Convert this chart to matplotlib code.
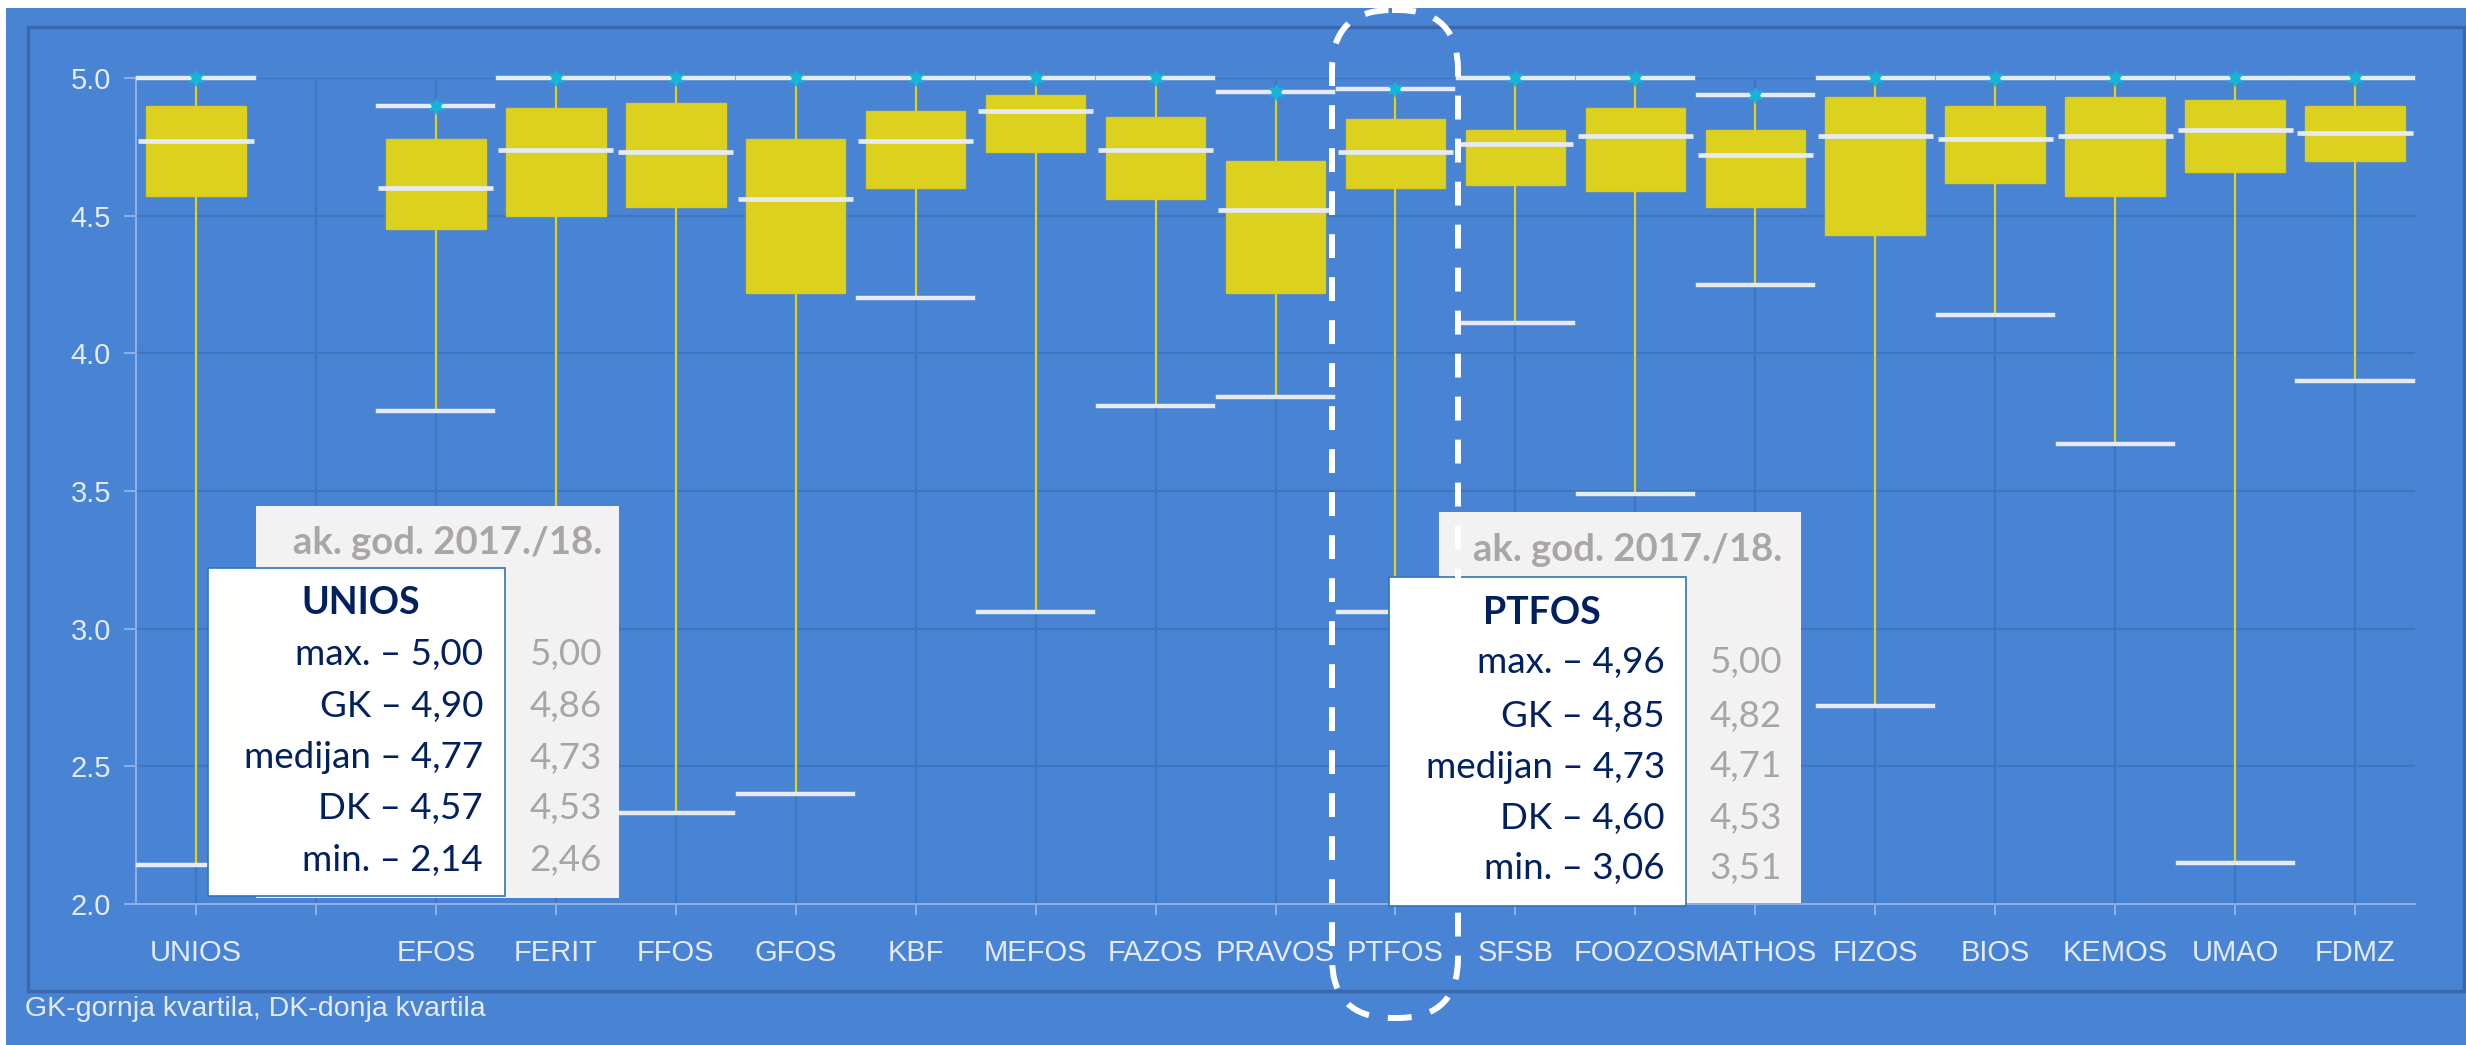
import numpy as np
import matplotlib
matplotlib.use("Agg")
import matplotlib.pyplot as plt
from matplotlib.patches import Rectangle, FancyBboxPatch

# --- data (ocjene po sastavnicama) ---
labels = ["UNIOS", "", "EFOS", "FERIT", "FFOS", "GFOS", "KBF", "MEFOS", "FAZOS", "PRAVOS",
          "PTFOS", "SFSB", "FOOZOS", "MATHOS", "FIZOS", "BIOS", "KEMOS", "UMAO", "FDMZ"]
names = [l for l in labels if l]
maxs    = [5.00, 4.90, 5.00, 5.00, 5.00, 5.00, 5.00, 5.00, 4.95, 4.96, 5.00, 5.00, 4.94, 5.00, 5.00, 5.00, 5.00, 5.00]
q3s     = [4.90, 4.78, 4.89, 4.91, 4.78, 4.88, 4.94, 4.86, 4.70, 4.85, 4.81, 4.89, 4.81, 4.93, 4.90, 4.93, 4.92, 4.90]
medians = [4.77, 4.60, 4.74, 4.73, 4.56, 4.77, 4.88, 4.74, 4.52, 4.73, 4.76, 4.79, 4.72, 4.79, 4.78, 4.79, 4.81, 4.80]
q1s     = [4.57, 4.45, 4.50, 4.53, 4.22, 4.60, 4.73, 4.56, 4.22, 4.60, 4.61, 4.59, 4.53, 4.43, 4.62, 4.57, 4.66, 4.70]
mins    = [2.14, 3.79, 2.70, 2.33, 2.40, 4.20, 3.06, 3.81, 3.84, 3.06, 4.11, 3.49, 4.25, 2.72, 4.14, 3.67, 2.15, 3.90]

prev_unios = [5.00, 4.86, 4.73, 4.53, 2.46]   # ak. god. 2017./18.
prev_ptfos = [5.00, 4.82, 4.71, 4.53, 3.51]
stat_names = ["max.", "GK", "medijan", "DK", "min."]
yticks = [2.0, 2.5, 3.0, 3.5, 4.0, 4.5, 5.0]

BG = "#4983D3"
GRID = "#3F74C0"
LIGHT = "#E4EBF7"
YELLOW = "#DCD11E"
NAVY = "#002060"
GRAY_TXT = "#AAA6A6"

W, H = 2466, 1045
fig = plt.figure(figsize=(W / 100, H / 100), dpi=100, facecolor="white")

# background / frame in pixel coordinates
bg = fig.add_axes([0, 0, 1, 1], zorder=0)
bg.set_xlim(0, W)
bg.set_ylim(H, 0)
bg.axis("off")
bg.add_patch(Rectangle((6, 8), W, H, facecolor=BG, edgecolor="none"))
bg.add_patch(Rectangle((28, 27), 2436, 964, facecolor="none", edgecolor="#3B68AC", lw=2.5))

# main chart
ax = fig.add_axes([136 / W, (H - 904) / H, (2415 - 136) / W, (904 - 78) / H], zorder=1)
ax.set_facecolor("none")
pos = [i for i, l in enumerate(labels) if l]
stats = [dict(label=n, whislo=lo, q1=a, med=m, q3=b, whishi=hi)
         for n, lo, a, m, b, hi in zip(names, mins, q1s, medians, q3s, maxs)]
art = ax.bxp(stats, positions=pos, widths=0.83, capwidths=0.96, patch_artist=True,
             showfliers=False,
             boxprops=dict(facecolor=YELLOW, edgecolor="#D8CC20", lw=1),
             whiskerprops=dict(color="#E2D31A", lw=1.6),
             capprops=dict(color="#E6EAF2", lw=3.2),
             medianprops=dict(lw=0))
for group in art.values():
    for a in group:
        a.set_clip_on(False)
for c in art["caps"]:
    c.set_zorder(4)
ax.hlines(medians, np.array(pos) - 0.48, np.array(pos) + 0.48, color="#E6EAF2", lw=3.4,
          zorder=4, clip_on=False)
ax.scatter(pos, maxs, marker=(6, 1, 0), s=170, color="#13B5DA", zorder=6, clip_on=False,
           linewidths=0)

ax.set_xlim(-0.5, len(labels) - 0.5)
ax.set_ylim(2.0, 5.0)
ax.set_xticks(range(len(labels)))
ax.set_xticklabels(labels)
ax.set_yticks(yticks)
ax.set_yticklabels([f"{v:.1f}" for v in yticks])
ax.grid(True, color=GRID, lw=1.6, zorder=0)
ax.set_axisbelow(True)
for s in ["top", "right"]:
    ax.spines[s].set_visible(False)
for s in ["left", "bottom"]:
    ax.spines[s].set_color("#8DAEE4")
    ax.spines[s].set_linewidth(1.5)
ax.tick_params(axis="x", colors="#8DAEE4", length=8, width=1.5, pad=17,
               labelcolor=LIGHT, labelsize=21)
ax.tick_params(axis="y", colors="#8DAEE4", length=9, width=1.5, pad=9,
               labelcolor=LIGHT, labelsize=21)
for t in ax.get_xticklabels() + ax.get_yticklabels():
    t.set_fontfamily("Liberation Sans")

# overlay: summary boxes and highlight
ov = fig.add_axes([0, 0, 1, 1], zorder=3)
ov.set_xlim(0, W)
ov.set_ylim(H, 0)
ov.axis("off")
ov.patch.set_alpha(0)

def fmt(v):
    return f"{v:.2f}".replace(".", ",")

def summary(name, cur, prev, gray, white, xr, xg, yh, yt, ys):
    ov.add_patch(Rectangle((gray[0], gray[1]), gray[2] - gray[0], gray[3] - gray[1],
                           facecolor="#F2F2F2", edgecolor="none"))
    ov.add_patch(Rectangle((white[0], white[1]), white[2] - white[0], white[3] - white[1],
                           facecolor="white", edgecolor="#2E75B6", lw=1.2))
    ov.text(xg, yh, "ak. god. 2017./18.", ha="right", va="center", fontsize=27.5,
            fontweight="bold", color=GRAY_TXT, family="Lato")
    ov.text((white[0] + white[2]) / 2 + 4, yt, name, ha="center", va="center", fontsize=27,
            fontweight="bold", color=NAVY, family="Lato")
    for lab, c, p, y in zip(stat_names, cur, prev, ys):
        ov.text(xr, y, f"{lab} \u2013 {fmt(c)}", ha="right", va="center", fontsize=26.5,
                color=NAVY, family="Lato")
        ov.text(xg, y, fmt(p), ha="right", va="center", fontsize=26.5, color="#A6A6A6",
                family="Lato")

i_u = names.index("UNIOS")
i_p = names.index("PTFOS")
cur_u = [maxs[i_u], q3s[i_u], medians[i_u], q1s[i_u], mins[i_u]]
cur_p = [maxs[i_p], q3s[i_p], medians[i_p], q1s[i_p], mins[i_p]]
summary("UNIOS", cur_u, prev_unios, (256, 506, 619, 898), (208, 568, 505, 896),
        483, 602, 543, 603, [655, 707, 758, 808, 860])
summary("PTFOS", cur_p, prev_ptfos, (1439, 512, 1801, 903), (1389, 577, 1686, 906),
        1665, 1782, 550, 613, [663, 717, 767, 818, 868])

ov.add_patch(FancyBboxPatch((1332, 10), 126, 1008, boxstyle="round,pad=0,rounding_size=60",
                            facecolor="none", edgecolor="white", lw=4.3,
                            linestyle=(0, (4.0, 3.2))))

ov.text(25, 1009, "GK-gornja kvartila, DK-donja kvartila", ha="left", va="center",
        fontsize=20.5, color=LIGHT, family="Liberation Sans")

fig.savefig("out.png", dpi=100, facecolor=fig.get_facecolor())
